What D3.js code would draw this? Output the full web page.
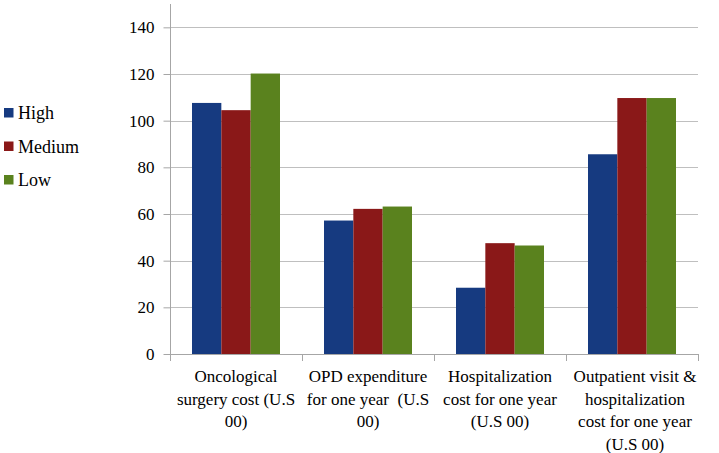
<!DOCTYPE html>
<html><head><meta charset="utf-8">
<script src="https://cdn.jsdelivr.net/npm/d3@7"></script>
<style>body{margin:0;background:#fff}svg{display:block}</style>
</head><body><svg id="c" width="719" height="453"></svg>
<script>
const categories = [
  ["Oncological","surgery cost (U.S","00)"],
  ["OPD expenditure","for one year  (U.S","00)"],
  ["Hospitalization","cost for one year","(U.S 00)"],
  ["Outpatient visit &","hospitalization","cost for one year","(U.S 00)"]
];
const seriesNames = ["High","Medium","Low"];
const seriesColors = ["#163A80","#8A1818","#5A821E"];
const high = [107.6, 57.2, 28.4, 85.6];
const medium = [104.5, 62.2, 47.5, 109.7];
const low = [120.2, 63.2, 46.5, 109.7];
const yTicks = [0,20,40,60,80,100,120,140];
const values = [high, medium, low];

const FONT = '"Liberation Serif", "Times New Roman", Tinos, serif';
const svg = d3.select("#c").attr("font-family", "Liberation Serif");
const pLeft = 170, pRight = 698, pTop = 4, pBottom = 354;
const x = d3.scaleBand().domain(d3.range(categories.length)).range([pLeft,pRight]).paddingInner(0).paddingOuter(0);
const y = d3.scaleLinear().domain([0,150]).range([pBottom, pTop]);
const inner = d3.scaleBand().domain(d3.range(3)).range([0, x.bandwidth()]).paddingInner(0).paddingOuter(0.75);

svg.append("g").selectAll("line").data(yTicks.filter(d=>d>0)).join("line")
  .attr("x1", pLeft).attr("x2", pRight).attr("y1", d=>Math.round(y(d))+0.5).attr("y2", d=>Math.round(y(d))+0.5)
  .attr("stroke","#bfbfbf").attr("stroke-width",1);

const g = svg.append("g");
values.forEach((vals, si) => {
  g.selectAll(null).data(vals).join("rect")
    .attr("x", (d,i)=>x(i)+inner(si))
    .attr("width", inner.bandwidth())
    .attr("y", d=>y(d))
    .attr("height", d=>y(0)-y(d))
    .attr("fill", seriesColors[si]);
});

const yAxis = d3.axisLeft(y).tickValues(yTicks).tickSize(7).tickPadding(9).tickFormat(d3.format("d"));
const ya = svg.append("g").attr("transform",`translate(${pLeft+0.5},0)`).call(yAxis).attr("font-family", null).attr("font-size", null);
ya.select(".domain").attr("stroke","#a6a6a6").attr("d",`M0,${pTop}V${pBottom}`);
ya.selectAll(".tick line").attr("stroke","#a6a6a6");
ya.selectAll(".tick text").style("font-size","17px").style("font-family",FONT).attr("fill","#000");

svg.append("line").attr("x1",pLeft).attr("x2",pRight).attr("y1",pBottom+0.5).attr("y2",pBottom+0.5).attr("stroke","#a6a6a6");
svg.append("g").selectAll("line").data(d3.range(categories.length+1)).join("line")
  .attr("x1", i=> (i<categories.length? x(i): pRight)+0.5).attr("x2", i=> (i<categories.length? x(i): pRight)+0.5)
  .attr("y1", pBottom).attr("y2", pBottom+7).attr("stroke","#a6a6a6");

categories.forEach((lines,i)=>{
  const cx = x(i)+x.bandwidth()/2 + (i===3 ? 3 : 0);
  const t = svg.append("text").attr("text-anchor","middle")
    .style("font-size","17px").style("font-family",FONT).style("white-space","pre").attr("fill","#000")
    .attr("x", cx).attr("y", 382);
  lines.forEach((ln,k)=>{
    t.append("tspan").attr("x", cx).attr("dy", k===0?0:22.7).text(ln);
  });
});

const leg = svg.append("g");
seriesNames.forEach((n,i)=>{
  const yy = 112.5 + i*33.5;
  leg.append("rect").attr("x",4).attr("y",yy-4.5).attr("width",9.5).attr("height",9.5).attr("fill",seriesColors[i]);
  leg.append("text").attr("x",18).attr("y",yy+6.5).style("font-size","18px").style("font-family",FONT).attr("fill","#000").text(n);
});
</script></body></html>
